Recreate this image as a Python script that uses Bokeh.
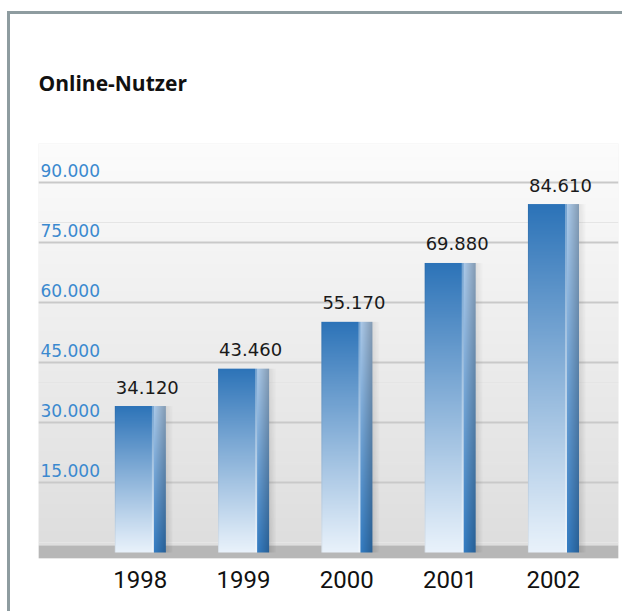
import numpy as np
from bokeh.plotting import figure
from bokeh.models import Range1d, FixedTicker, BoxAnnotation, Grid
from bokeh.core.properties import value
from bokeh.embed import file_html
from bokeh.resources import INLINE

# ---- data ----
years = ["1998", "1999", "2000", "2001", "2002"]
users = [34120, 43460, 55170, 69880, 84610]
value_labels = ["34.120", "43.460", "55.170", "69.880", "84.610"]
y_ticks = [15000, 30000, 45000, 60000, 75000, 90000]
y_tick_labels = ["15.000", "30.000", "45.000", "60.000", "75.000", "90.000"]

# ---- geometry / style ----
PX_X = 101.5            # pixels per category step
FRAME_W, FRAME_H = 570, 415
X0 = -100 / PX_X
X1 = X0 + FRAME_W / PX_X
UNITS_PER_PX = 250.0
Y0 = -16 * UNITS_PER_PX
Y1 = Y0 + FRAME_H * UNITS_PER_PX
FLOOR_TOP = -3 * UNITS_PER_PX
BAR_BOTTOM = -10 * UNITS_PER_PX
FRONT_PX, SIDE_PX, SHADOW_PX = 38, 12, 7
BAR_LEFT = -25 / PX_X

idx = np.arange(len(years))


def rgba_image(rgba):
    rows, cols, _ = rgba.shape
    img = np.empty((rows, cols), dtype=np.uint32)
    view = img.view(dtype=np.uint8).reshape((rows, cols, 4))
    view[:, :, :] = np.clip(rgba, 0, 255).astype(np.uint8)
    return img


# bar image (row 0 = bottom)
ROWS = 300
t = np.linspace(0, 1, ROWS)[:, None]          # 0 bottom -> 1 top
cols = FRONT_PX + SIDE_PX + SHADOW_PX
bar = np.zeros((ROWS, cols, 4))
f_bot = np.array([233, 242, 251])
f_top = np.array([44, 115, 184])
front = f_bot[None, :] + (f_top - f_bot)[None, :] * (t ** 1.05)
for c in range(FRONT_PX):
    col = front.copy()
    if c >= FRONT_PX - 2:
        col = col + (255 - col) * 0.35
    if c == 0:
        col = col * 0.95
    bar[:, c, :3] = col
    bar[:, c, 3] = 255
s_bot = np.array([52, 124, 194])
s_top = np.array([172, 202, 233])
side = s_bot[None, :] + (s_top - s_bot)[None, :] * t
for c in range(SIDE_PX):
    bar[:, FRONT_PX + c, :3] = side * (1 - 0.02 * c)
    bar[:, FRONT_PX + c, 3] = 255
for c in range(SHADOW_PX):
    a = 0.22 * (1 - c / SHADOW_PX) * (0.55 + 0.45 * (1 - t[:, 0]))
    bar[:, FRONT_PX + SIDE_PX + c, :3] = 90
    bar[:, FRONT_PX + SIDE_PX + c, 3] = 255 * a
bar_img = rgba_image(bar)

# background gradient
BG_ROWS = 256
tb = np.linspace(0, 1, BG_ROWS)[:, None]
bg = np.zeros((BG_ROWS, 1, 4))
b_bot = np.array([222, 222, 222])
b_top = np.array([252, 252, 252])
bg[:, 0, :3] = b_bot[None, :] + (b_top - b_bot)[None, :] * tb
bg[:, :, 3] = 255
bg_img = rgba_image(bg)

p = figure(width=615, height=600, output_backend="svg", toolbar_location=None,
           x_range=Range1d(X0, X1), y_range=Range1d(Y0, Y1),
           y_axis_location=None, min_border_left=28, min_border_right=7,
           min_border_top=129, min_border_bottom=56)
p.styles = {"border-top": "3px solid #8e9ca0", "border-left": "3px solid #8e9ca0",
            "margin-top": "11px", "margin-left": "7px"}
p.outline_line_color = None
p.background_fill_color = "#f0f0f0"
p.border_fill_color = "white"
p.xgrid.grid_line_color = None

# title
p.title.text = "Online-Nutzer"
p.title.text_font = "Open Sans"
p.title.text_font_style = "bold"
p.title.text_font_size = "21px"
p.title.text_color = "#111111"
p.title.align = "left"
p.title.standoff = 94

# background
p.image_rgba(image=[bg_img], x=X0, y=FLOOR_TOP, dw=X1 - X0, dh=Y1 - FLOOR_TOP, level="image")

# gridlines
grid = Grid(dimension=1, ticker=FixedTicker(ticks=y_ticks),
            grid_line_color="#c9c9c9", grid_line_width=2)
p.add_layout(grid)

# floor
p.add_layout(BoxAnnotation(top=FLOOR_TOP, fill_color="#b7b7b7", fill_alpha=1.0,
                           line_color=None, level="underlay"))

# bars
n = len(users)
p.image_rgba(image=[bar_img] * n, x=list(idx + BAR_LEFT), y=[BAR_BOTTOM] * n,
             dw=[cols / PX_X] * n, dh=[u - BAR_BOTTOM for u in users])

# value labels
p.text(x=list(idx + BAR_LEFT), y=users, text=value_labels, x_offset=1, y_offset=-19,
       text_align="left", text_baseline="alphabetic", text_color="#1a1a1a",
       text_font=value("DejaVu Sans"), text_font_size="18px")

# y tick labels
p.text(x=[X0] * len(y_ticks), y=y_ticks, text=y_tick_labels, x_offset=2, y_offset=-12,
       text_align="left", text_baseline="alphabetic", text_color="#3b89cf",
       text_font=value("DejaVu Sans"), text_font_size="17px")

# x axis
p.xaxis.ticker = FixedTicker(ticks=[int(i) for i in idx])
p.xaxis.major_label_overrides = {int(i): y for i, y in zip(idx, years)}
p.xaxis.axis_line_color = None
p.xaxis.major_tick_line_color = None
p.xaxis.minor_tick_line_color = None
p.xaxis.major_label_standoff = 6
p.xaxis.major_label_text_font = "Roboto"
p.xaxis.major_label_text_font_size = "24px"
p.xaxis.major_label_text_color = "#111111"

open("out.html", "w").write(file_html(p, INLINE))
